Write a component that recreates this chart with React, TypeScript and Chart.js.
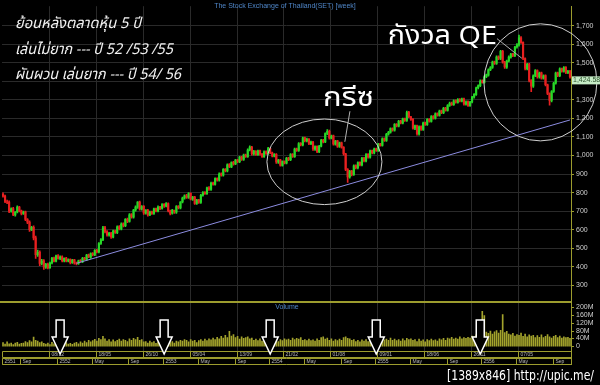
import React, { useEffect, useRef } from "react";
import { Chart, registerables } from "chart.js";

Chart.register(...registerables);

// ---- weekly SET index data (week 0 = 30/06/2008) ----
const opens = [
  790, 781, 750, 749, 699, 713, 679, 696, 721, 701,
  687, 696, 654, 641, 599, 613, 556, 464, 479, 417,
  431, 397, 413, 394, 421, 446, 429, 459, 444, 453,
  431, 446, 429, 439, 421, 437, 419, 417, 433, 427,
  446, 439, 463, 451, 471, 464, 489, 479, 526, 546,
  611, 589, 571, 581, 559, 593, 584, 616, 604, 631,
  621, 656, 644, 681, 667, 706, 721, 749, 711, 726,
  689, 706, 679, 696, 687, 713, 699, 723, 714, 736,
  727, 741, 701, 689, 704, 694, 726, 717, 749, 771,
  783, 774, 796, 764, 776, 741, 761, 747, 786, 801,
  794, 826, 817, 851, 844, 876, 867, 901, 894, 926,
  917, 951, 939, 963, 954, 976, 967, 993, 979, 1003,
  994, 1031, 1046, 1009, 1023, 1004, 1026, 1007, 994, 1021,
  1011, 1039, 1014, 997, 1006, 964, 976, 947, 969, 959,
  986, 977, 1006, 994, 1036, 1027, 1066, 1057, 1096, 1079,
  1089, 1064, 1073, 1034, 1049, 1021, 1051, 1083, 1074, 1119,
  1131, 1094, 1106, 1061, 1079, 1049, 1069, 1044, 1009, 924,
  884, 916, 897, 946, 934, 963, 949, 986, 971, 1006,
  991, 1026, 1014, 1036, 1027, 1063, 1054, 1091, 1081, 1116,
  1126, 1146, 1137, 1169, 1159, 1186, 1175, 1199, 1189, 1233,
  1209, 1196, 1147, 1161, 1117, 1156, 1141, 1176, 1167, 1196,
  1184, 1211, 1201, 1226, 1217, 1241, 1231, 1256, 1244, 1271,
  1283, 1274, 1296, 1287, 1303, 1294, 1306, 1277, 1291, 1269,
  1289, 1316, 1329, 1366, 1377, 1403, 1394, 1426, 1434, 1463,
  1476, 1506, 1497, 1533, 1524, 1563, 1504, 1477, 1511, 1531,
  1549, 1539, 1586, 1597, 1636, 1611, 1524, 1469, 1493, 1404,
  1374, 1431, 1459, 1424, 1446, 1417, 1431, 1381, 1334, 1297,
  1346, 1391, 1446, 1431, 1469, 1454, 1476, 1447, 1456,
];

const highs = [
  798, 786, 760, 755, 718, 720, 698, 728, 726, 705,
  700, 700, 660, 648, 618, 620, 565, 490, 485, 440,
  438, 418, 420, 425, 450, 452, 462, 465, 458, 458,
  448, 450, 442, 442, 440, 440, 425, 436, 438, 450,
  450, 466, 468, 474, 476, 492, 494, 530, 552, 618,
  618, 595, 586, 585, 598, 598, 620, 622, 636, 636,
  660, 662, 686, 686, 710, 728, 752, 754, 730, 730,
  708, 710, 700, 700, 716, 716, 728, 726, 740, 740,
  746, 745, 706, 710, 706, 730, 730, 752, 775, 788,
  790, 800, 798, 780, 780, 764, 764, 790, 806, 806,
  830, 832, 856, 856, 880, 880, 906, 906, 930, 930,
  955, 956, 966, 968, 980, 980, 996, 996, 1008, 1008,
  1036, 1052, 1050, 1028, 1026, 1030, 1030, 1012, 1025, 1025,
  1044, 1042, 1018, 1010, 1010, 980, 980, 972, 972, 990,
  990, 1010, 1010, 1040, 1040, 1070, 1070, 1100, 1100, 1094,
  1092, 1078, 1076, 1052, 1052, 1055, 1088, 1088, 1122, 1140,
  1138, 1110, 1110, 1082, 1082, 1072, 1072, 1048, 1012, 930,
  920, 920, 950, 950, 966, 966, 990, 990, 1010, 1010,
  1030, 1030, 1040, 1040, 1066, 1066, 1095, 1095, 1120, 1130,
  1150, 1150, 1172, 1172, 1190, 1190, 1202, 1202, 1240, 1238,
  1212, 1200, 1165, 1165, 1160, 1160, 1180, 1180, 1200, 1200,
  1215, 1215, 1230, 1230, 1245, 1245, 1260, 1260, 1275, 1288,
  1288, 1300, 1300, 1308, 1308, 1310, 1310, 1295, 1295, 1292,
  1320, 1335, 1370, 1382, 1408, 1408, 1430, 1440, 1468, 1480,
  1510, 1510, 1538, 1538, 1568, 1568, 1508, 1515, 1538, 1552,
  1552, 1590, 1604, 1650, 1642, 1614, 1528, 1498, 1498, 1410,
  1435, 1464, 1462, 1450, 1450, 1436, 1436, 1386, 1338, 1350,
  1395, 1450, 1450, 1474, 1472, 1480, 1480, 1460, 1460,
];

const lows = [
  775, 745, 740, 692, 694, 675, 672, 690, 695, 680,
  682, 648, 632, 590, 594, 545, 445, 455, 405, 410,
  385, 390, 388, 390, 415, 425, 425, 440, 438, 425,
  425, 425, 425, 415, 418, 414, 410, 412, 424, 422,
  435, 434, 448, 445, 458, 460, 474, 474, 520, 540,
  582, 565, 565, 552, 555, 580, 578, 598, 598, 615,
  616, 638, 640, 662, 662, 700, 715, 705, 705, 682,
  684, 672, 675, 682, 682, 695, 695, 708, 710, 720,
  722, 696, 680, 684, 688, 688, 712, 712, 744, 765,
  768, 768, 760, 758, 736, 736, 742, 742, 780, 790,
  790, 812, 812, 840, 840, 862, 862, 888, 888, 912,
  912, 934, 934, 948, 950, 962, 962, 974, 974, 990,
  990, 1025, 1002, 1002, 1000, 1000, 1002, 990, 990, 1006,
  1006, 1010, 992, 992, 958, 958, 942, 942, 955, 955,
  972, 972, 990, 990, 1022, 1022, 1052, 1052, 1074, 1074,
  1058, 1058, 1028, 1028, 1016, 1016, 1046, 1068, 1070, 1112,
  1088, 1090, 1056, 1056, 1044, 1044, 1040, 1002, 918, 855,
  878, 890, 892, 928, 928, 944, 944, 966, 966, 986,
  986, 1008, 1008, 1022, 1022, 1050, 1050, 1076, 1076, 1110,
  1120, 1132, 1132, 1154, 1154, 1170, 1170, 1184, 1184, 1204,
  1190, 1142, 1140, 1110, 1110, 1136, 1136, 1162, 1162, 1180,
  1180, 1196, 1196, 1212, 1212, 1226, 1226, 1240, 1240, 1265,
  1270, 1270, 1282, 1282, 1290, 1290, 1272, 1272, 1265, 1265,
  1284, 1310, 1324, 1360, 1372, 1390, 1390, 1420, 1428, 1458,
  1470, 1492, 1492, 1518, 1518, 1498, 1470, 1470, 1505, 1525,
  1534, 1534, 1580, 1590, 1605, 1518, 1462, 1462, 1398, 1345,
  1368, 1425, 1418, 1418, 1412, 1412, 1376, 1328, 1272, 1290,
  1340, 1385, 1426, 1426, 1450, 1450, 1442, 1442, 1418,
];

const closes = [
  780, 752, 748, 700, 712, 680, 695, 722, 700, 688,
  695, 655, 640, 600, 612, 555, 465, 478, 418, 430,
  398, 412, 395, 420, 445, 430, 458, 445, 452, 432,
  445, 430, 438, 422, 436, 420, 418, 432, 428, 445,
  440, 462, 452, 470, 465, 488, 480, 525, 545, 610,
  590, 572, 580, 560, 592, 585, 615, 605, 630, 622,
  655, 645, 680, 668, 705, 722, 748, 712, 725, 690,
  705, 680, 695, 688, 712, 700, 722, 715, 735, 728,
  740, 702, 688, 705, 695, 725, 718, 748, 770, 782,
  775, 795, 765, 775, 742, 760, 748, 785, 800, 795,
  825, 818, 850, 845, 875, 868, 900, 895, 925, 918,
  950, 940, 962, 955, 975, 968, 992, 980, 1002, 995,
  1030, 1045, 1010, 1022, 1005, 1025, 1008, 995, 1020, 1012,
  1038, 1015, 998, 1005, 965, 975, 948, 968, 960, 985,
  978, 1005, 995, 1035, 1028, 1065, 1058, 1095, 1080, 1088,
  1065, 1072, 1035, 1048, 1022, 1050, 1082, 1075, 1118, 1130,
  1095, 1105, 1062, 1078, 1050, 1068, 1045, 1010, 925, 885,
  915, 898, 945, 935, 962, 950, 985, 972, 1005, 992,
  1025, 1015, 1035, 1028, 1062, 1055, 1090, 1082, 1115, 1125,
  1145, 1138, 1168, 1160, 1185, 1176, 1198, 1190, 1232, 1210,
  1195, 1148, 1160, 1118, 1155, 1142, 1175, 1168, 1195, 1185,
  1210, 1202, 1225, 1218, 1240, 1232, 1255, 1245, 1270, 1282,
  1275, 1295, 1288, 1302, 1295, 1305, 1278, 1290, 1270, 1288,
  1315, 1330, 1365, 1378, 1402, 1395, 1425, 1435, 1462, 1475,
  1505, 1498, 1532, 1525, 1562, 1505, 1478, 1510, 1532, 1548,
  1540, 1585, 1598, 1635, 1610, 1525, 1470, 1492, 1405, 1375,
  1430, 1458, 1425, 1445, 1418, 1430, 1382, 1335, 1298, 1345,
  1390, 1445, 1432, 1468, 1455, 1475, 1448, 1455, 1424.58,
];

// volume, millions
const volumes = [
  18, 10, 22, 12, 16, 8, 15, 20, 11, 14,
  16, 24, 18, 28, 22, 47, 30, 26, 18, 22,
  14, 10, 16, 8, 20, 12, 16, 10, 18, 14,
  12, 18, 10, 14, 9, 16, 20, 12, 22, 16,
  26, 18, 30, 22, 28, 35, 26, 40, 34, 50,
  38, 26, 34, 22, 32, 24, 30, 36, 26, 34,
  30, 24, 38, 30, 40, 34, 46, 30, 34, 22,
  24, 16, 26, 18, 24, 14, 22, 18, 26, 16,
  22, 28, 18, 24, 16, 26, 22, 30, 26, 34,
  30, 22, 34, 26, 30, 18, 28, 34, 26, 36,
  28, 38, 32, 42, 34, 46, 38, 50, 42, 56,
  44, 77, 52, 60, 44, 50, 36, 48, 40, 44,
  48, 38, 42, 30, 36, 28, 38, 26, 36, 32,
  38, 30, 44, 32, 36, 24, 34, 28, 38, 32,
  36, 30, 42, 34, 40, 36, 44, 30, 34, 28,
  36, 28, 32, 26, 38, 30, 44, 48, 36, 42,
  30, 38, 26, 34, 28, 36, 30, 44, 48, 40,
  38, 30, 34, 24, 30, 22, 32, 26, 34, 24,
  32, 26, 36, 30, 38, 28, 40, 32, 36, 30,
  42, 30, 36, 28, 34, 26, 38, 28, 40, 34,
  38, 30, 34, 24, 36, 26, 32, 22, 34, 28,
  36, 28, 32, 26, 38, 32, 40, 30, 42, 38,
  46, 36, 42, 36, 48, 38, 44, 40, 46, 42,
  52, 48, 58, 62, 70, 180, 158, 72, 66, 78,
  62, 74, 80, 68, 82, 163, 70, 76, 62, 58,
  66, 52, 60, 56, 68, 50, 62, 48, 58, 52,
  56, 44, 54, 46, 58, 44, 50, 60, 48, 42,
  50, 56, 44, 52, 42, 48, 44, 46, 40,
];

// axis tick values
const priceTicks = [300, 400, 500, 600, 700, 800, 900, 1000, 1100, 1200, 1300, 1400, 1500, 1600, 1700];
const volumeTicks = [0, 40, 80, 120, 160, 200];

// date scale rows (label, week index)
const topRowLabels = ["08/12", "18/05", "26/10", "05/04", "13/09", "21/02", "01/08", "09/01", "18/06", "26/11", "07/05"];
const topRowIdx = [23, 46, 69, 92, 115, 138, 161, 184, 207, 230, 253];
const bottomRowLabels = ["2551", "Sep", "2552", "May", "Sep", "2553", "May", "Sep", "2554", "May", "Sep", "2555", "May", "Sep", "2556", "May", "Sep"];
const bottomRowIdx = [0, 9, 27, 44, 62, 79, 96, 114, 131, 148, 166, 183, 200, 218, 235, 252, 270];

// trend line (week index, price)
const trendIdx = [36, 278];
const trendVal = [418, 1192];

// annotations (in data units)
const arrowIdx = [28, 79, 131, 183, 234];
const circleIdx = [157.6, 263.5];
const circlePrice = [966, 1395];
const circleRWeeks = [28.2, 27.7];
const circleRPrice = [231, 316];
const calloutText = ["กรีซ", "กังวล QE"];
const calloutIdx = [156.9, 188.7];
const calloutPrice = [1270, 1604];
const calloutWidth = [51, 109];
const pointerFrom = [[170.1, 1239], [242.2, 1631]];
const pointerTo = [[167.6, 1074], [254.4, 1525]];
const noteLines = ["ย้อนหลังตลาดหุ้น 5 ปี", "เล่นไม่ยาก --- ปี 52 /53 /55", "ผันผวน เล่นยาก --- ปี 54/ 56"];
const noteWidth = [126, 158, 166];

const N = closes.length;
const startDate = new Date(2008, 5, 30);
const weekLabels = closes.map((_, i) => {
  const d = new Date(startDate.getTime() + i * 7 * 86400000);
  return `${d.getDate()}/${d.getMonth() + 1}/${d.getFullYear()}`;
});

const UP = "#27d827";
const DOWN = "#e82020";
const FRAME = "#9c9c2e";
const GRID = "#2a2a2a";
const BLUE = "#4f86c8";
const SANS = '"Liberation Sans", Arial, sans-serif';
const THAI = '"Noto Sans Thai", "Noto Sans Thai UI", Loma, Garuda, Kinnari, "TLWG Typo", "DejaVu Sans", sans-serif';

const candleColors = closes.map((c, i) => (c >= opens[i] ? UP : DOWN));

function fitText(ctx: CanvasRenderingContext2D, text: string, x: number, y: number, width: number) {
  const w = ctx.measureText(text).width;
  ctx.save();
  ctx.translate(x, y);
  ctx.scale(width / w, 1);
  ctx.fillText(text, 0, 0);
  ctx.restore();
}

const overlay = {
  id: "overlay",
  beforeDraw(chart: any) {
    const { ctx, width, height } = chart;
    ctx.save();
    ctx.fillStyle = "#000";
    ctx.fillRect(0, 0, width, height);
    ctx.restore();
  },
  beforeDatasetsDraw(chart: any) {
    const { ctx, chartArea } = chart;
    const x = chart.scales.x;
    ctx.save();
    ctx.strokeStyle = GRID;
    ctx.lineWidth = 1;
    topRowIdx.forEach((i) => {
      const px = Math.round(x.getPixelForValue(i) - 1) + 0.5;
      ctx.beginPath();
      ctx.moveTo(px, chartArea.top);
      ctx.lineTo(px, chartArea.bottom);
      ctx.stroke();
    });
    ctx.restore();
  },
  afterDatasetsDraw(chart: any) {
    const { ctx, chartArea } = chart;
    const x = chart.scales.x;
    const y = chart.scales.y;
    const yv = chart.scales.yv;
    const R = chartArea.right;
    ctx.save();

    // panel separator
    ctx.fillStyle = FRAME;
    ctx.fillRect(0, 301, R, 2);

    // axis line extension
    ctx.strokeStyle = FRAME;
    ctx.lineWidth = 1;
    ctx.beginPath();
    ctx.moveTo(R + 0.5, chartArea.bottom);
    ctx.lineTo(R + 0.5, 365);
    ctx.stroke();

    // date rows
    const rows = [
      { top: 351.5, bot: 357.5, labels: topRowLabels, idx: topRowIdx },
      { top: 358.5, bot: 364.5, labels: bottomRowLabels, idx: bottomRowIdx },
    ];
    ctx.font = `5px ${SANS}`;
    ctx.textBaseline = "middle";
    ctx.textAlign = "left";
    rows.forEach((row) => {
      ctx.strokeStyle = FRAME;
      ctx.beginPath();
      ctx.moveTo(2.5, row.top);
      ctx.lineTo(R, row.top);
      ctx.moveTo(2.5, row.bot);
      ctx.lineTo(R, row.bot);
      ctx.moveTo(2.5, row.top);
      ctx.lineTo(2.5, row.bot);
      ctx.stroke();
      row.idx.forEach((i, k) => {
        const px = Math.max(2.5, Math.round(x.getPixelForValue(i) - 1) + 0.5);
        ctx.beginPath();
        ctx.moveTo(px, row.top);
        ctx.lineTo(px, row.bot);
        ctx.stroke();
        ctx.fillStyle = "#b8b8b8";
        ctx.fillText(row.labels[k], px + 2, (row.top + row.bot) / 2 + 0.5);
      });
    });

    // volume axis labels
    ctx.font = `7px ${SANS}`;
    ctx.textBaseline = "middle";
    volumeTicks.forEach((v) => {
      const py = Math.round(yv.getPixelForValue(v)) + 0.5;
      ctx.strokeStyle = FRAME;
      ctx.beginPath();
      ctx.moveTo(R, py);
      ctx.lineTo(R + 3, py);
      ctx.stroke();
      ctx.fillStyle = "#cfcfcf";
      ctx.fillText(v === 0 ? "0" : `${v}M`, R + 5, py);
    });

    // titles
    ctx.fillStyle = BLUE;
    ctx.font = `7px ${SANS}`;
    ctx.textAlign = "center";
    ctx.fillText("The Stock Exchange of Thailand(SET) [week]", 285, 6);
    ctx.fillText("Volume", 287, 307);

    // notes
    ctx.textAlign = "left";
    ctx.textBaseline = "alphabetic";
    ctx.fillStyle = "#f2f2f2";
    ctx.font = `italic 15px ${THAI}`;
    noteLines.forEach((t, k) => fitText(ctx, t, 15, 28 + k * 25.5, noteWidth[k]));

    // circles
    ctx.strokeStyle = "#cfcfcf";
    ctx.lineWidth = 1;
    circleIdx.forEach((ci, k) => {
      const cx = x.getPixelForValue(ci);
      const cy = y.getPixelForValue(circlePrice[k]);
      const rx = Math.abs(x.getPixelForValue(ci + circleRWeeks[k]) - cx);
      const ry = Math.abs(y.getPixelForValue(circlePrice[k] + circleRPrice[k]) - cy);
      ctx.beginPath();
      ctx.ellipse(cx, cy, rx, ry, 0, 0, Math.PI * 2);
      ctx.stroke();
    });

    // callouts
    ctx.strokeStyle = "#b0b0b0";
    pointerFrom.forEach((f, k) => {
      ctx.beginPath();
      ctx.moveTo(x.getPixelForValue(f[0]), y.getPixelForValue(f[1]));
      ctx.lineTo(x.getPixelForValue(pointerTo[k][0]), y.getPixelForValue(pointerTo[k][1]));
      ctx.stroke();
    });
    ctx.fillStyle = "#ffffff";
    ctx.font = `26px ${THAI}`;
    calloutText.forEach((t, k) => {
      fitText(ctx, t, x.getPixelForValue(calloutIdx[k]), y.getPixelForValue(calloutPrice[k]), calloutWidth[k]);
    });

    // arrows
    ctx.lineWidth = 1.5;
    ctx.strokeStyle = "#ffffff";
    ctx.fillStyle = "#000000";
    arrowIdx.forEach((i) => {
      const cx = x.getPixelForValue(i);
      ctx.beginPath();
      ctx.moveTo(cx - 4, 320);
      ctx.lineTo(cx + 4, 320);
      ctx.lineTo(cx + 4, 337);
      ctx.lineTo(cx + 8, 337);
      ctx.lineTo(cx, 354);
      ctx.lineTo(cx - 8, 337);
      ctx.lineTo(cx - 4, 337);
      ctx.closePath();
      ctx.fill();
      ctx.stroke();
    });

    // last price tag
    const last = closes[N - 1];
    const ly = y.getPixelForValue(last);
    ctx.fillStyle = "#c6ecc6";
    ctx.fillRect(R + 1, ly - 0.5, 600 - R, 8);
    ctx.fillStyle = "#2e522e";
    ctx.font = `7px ${SANS}`;
    ctx.textBaseline = "middle";
    ctx.fillText(last.toLocaleString("en-US", { minimumFractionDigits: 2 }), R + 2, ly + 3.5);

    // watermark
    ctx.font = `14px "DejaVu Sans", sans-serif`;
    ctx.textBaseline = "alphabetic";
    ctx.fillStyle = "#ffffff";
    fitText(ctx, "[1389x846] http://upic.me/", 447, 380, 147);

    ctx.restore();
  },
};

export default function App() {
  const ref = useRef<HTMLCanvasElement>(null);
  useEffect(() => {
    document.body.style.margin = "0";
    document.body.style.background = "#000";
    const trend = closes.map(() => null as number | null);
    trendIdx.forEach((i, k) => (trend[i] = trendVal[k]));
    const chart = new Chart(ref.current as HTMLCanvasElement, {
      type: "bar",
      data: {
        labels: weekLabels,
        datasets: [
          {
            type: "bar",
            label: "Body",
            data: opens.map((o, i) => [Math.min(o, closes[i]), Math.max(o, closes[i])]) as any,
            backgroundColor: candleColors,
            barThickness: 1.5,
            grouped: false,
            borderWidth: 0,
            yAxisID: "y",
            order: 1,
          },
          {
            type: "bar",
            label: "Wick",
            data: lows.map((l, i) => [
              Math.min(l, opens[i], closes[i]),
              Math.max(highs[i], opens[i], closes[i]),
            ]) as any,
            backgroundColor: candleColors,
            barThickness: 1,
            grouped: false,
            borderWidth: 0,
            yAxisID: "y",
            order: 2,
          },
          {
            type: "bar",
            label: "Volume",
            data: volumes,
            backgroundColor: "#a3a32c",
            barThickness: 1,
            grouped: false,
            borderWidth: 0,
            yAxisID: "yv",
            order: 3,
          },
          {
            type: "line",
            label: "Trend",
            data: trend as any,
            borderColor: "#8c8ce0",
            borderWidth: 1,
            pointRadius: 0,
            spanGaps: true,
            yAxisID: "y",
            order: 0,
          },
        ],
      },
      options: {
        animation: false,
        responsive: false,
        events: [],
        layout: { padding: { left: 2, right: 0, top: 0, bottom: 34 } },
        plugins: { legend: { display: false }, tooltip: { enabled: false }, title: { display: false } },
        scales: {
          x: { display: false, offset: true },
          y: {
            position: "right",
            min: -55.3,
            max: 1806.1,
            afterFit: (s: any) => {
              s.width = 29;
            },
            afterBuildTicks: (s: any) => {
              s.ticks = priceTicks.map((value) => ({ value }));
            },
            ticks: {
              color: "#cfcfcf",
              font: { size: 7, family: SANS },
              padding: 2,
              autoSkip: false,
              callback: (v: any) => Number(v).toLocaleString("en-US"),
            },
            grid: { color: GRID, tickColor: FRAME, tickLength: 3 },
            border: { color: FRAME },
          },
          yv: { display: false, min: -25.4, max: 1761 },
        },
      },
      plugins: [overlay],
    });
    return () => chart.destroy();
  }, []);
  return (
    <div style={{ width: 600, height: 385, background: "#000", position: "fixed", left: 0, top: 0 }}>
      <canvas ref={ref} width={600} height={385} style={{ display: "block" }} />
    </div>
  );
}
